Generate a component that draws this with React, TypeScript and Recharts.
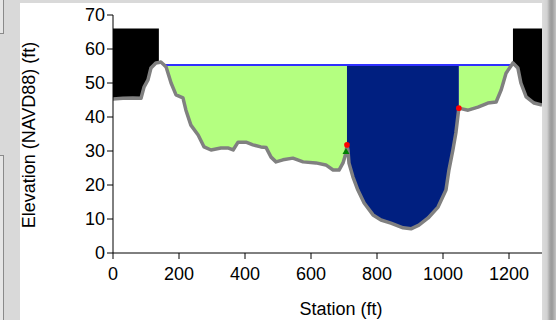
import React from 'react';
import { ComposedChart, Area, Line, XAxis, YAxis } from 'recharts';

// ground profile (station ft, elevation ft)
const STATIONS = [
  0, 30, 60, 85, 94, 106, 115, 130, 139, 145, 155, 161, 176, 191, 212, 221, 236, 258, 276, 297,
  327, 348, 364, 379, 403, 424, 448, 464, 479, 494, 515, 545, 576, 615, 645, 667, 685, 697, 706, 709,
  712, 715, 727, 742, 761, 788, 812, 842, 879, 903, 927, 955, 985, 1009, 1018, 1030, 1039, 1048, 1076, 1106,
  1136, 1161, 1176, 1191, 1208, 1212, 1227, 1236, 1252, 1276, 1300,
];
const ELEVATIONS = [
  45.3, 45.5, 45.6, 45.5, 48.8, 50.9, 54.4, 55.9, 56.0, 56.2, 55.3, 54.7, 50.0, 46.5, 45.6, 42.0, 37.6, 34.7, 31.2, 30.3,
  30.9, 30.9, 30.3, 32.6, 32.6, 31.8, 31.2, 31.0, 28.2, 26.8, 27.4, 27.9, 26.8, 26.5, 25.9, 24.4, 24.4, 26.5, 29.4, 31.8,
  30.3, 26.5, 22.4, 18.5, 14.7, 11.2, 9.7, 8.8, 7.4, 7.1, 8.2, 10.3, 13.5, 18.5, 24.4, 30.3, 35.3, 42.6, 42.0, 42.9,
  44.1, 44.4, 47.9, 52.9, 55.3, 55.9, 54.4, 50.0, 45.9, 44.1, 43.5,
];

const WATER_SURFACE = 55.3;
const WATER_EDGES = [155, 1208];
const BANK_STATIONS = [709, 1048];
const BLOCK_TOP = 66;
const LEFT_BLOCK = [0, 139];
const RIGHT_BLOCK = [1212, 1300];
const LEVEE_MARK = { station: 706, elev: 30 };

const X_TICKS = [0, 200, 400, 600, 800, 1000, 1200];
const Y_TICKS = [0, 10, 20, 30, 40, 50, 60, 70];
const X_MINOR = Array.from({ length: 33 }, (_, i) => i * 40);
const Y_MINOR = Array.from({ length: 43 }, (_, i) => (i * 10) / 6);

const FONT = 'Arial, "Liberation Sans", sans-serif';

const inside = (s: number, a: number, b: number) => s >= a && s <= b;

const rows = STATIONS.map((station, i) => {
  const elev = ELEVATIONS[i];
  const overbank =
    inside(station, WATER_EDGES[0], BANK_STATIONS[0]) || inside(station, BANK_STATIONS[1], WATER_EDGES[1]);
  return {
    station,
    elev,
    leftBlock: inside(station, LEFT_BLOCK[0], LEFT_BLOCK[1]) ? [elev, BLOCK_TOP] : null,
    rightBlock: inside(station, RIGHT_BLOCK[0], RIGHT_BLOCK[1]) ? [elev, BLOCK_TOP] : null,
    overbank: overbank ? [elev, WATER_SURFACE] : null,
    channel: inside(station, BANK_STATIONS[0], BANK_STATIONS[1]) ? [elev, WATER_SURFACE] : null,
    ws: inside(station, WATER_EDGES[0], WATER_EDGES[1]) ? WATER_SURFACE : null,
    bank: BANK_STATIONS.includes(station) ? elev : null,
    levee: station === LEVEE_MARK.station ? LEVEE_MARK.elev : null,
  };
});

function TriangleDot(props: any) {
  const { cx, cy, index } = props;
  if (cx == null || cy == null) return <g key={index} />;
  return <polygon key={index} points={`${cx},${cy - 3} ${cx + 3.5},${cy + 3} ${cx - 3.5},${cy + 3}`} fill="#008000" />;
}

const tickStyle = { fontSize: 18, fill: '#000', fontFamily: FONT };

export default function App() {
  return (
    <div style={{ position: 'absolute', left: 0, top: 0, width: 556, height: 320, background: '#d9d9d9', overflow: 'hidden' }}>
      {/* left panel remnants */}
      <div style={{ position: 'absolute', left: 0, top: 0, width: 3, height: 33, background: '#e6e6e6', borderRight: '1px solid #8a8a8a', borderBottom: '1px solid #8a8a8a' }} />
      <div style={{ position: 'absolute', left: 0, top: 155, width: 3, height: 170, background: '#e6e6e6', borderRight: '1px solid #8a8a8a', borderTop: '1px solid #8a8a8a' }} />
      {/* right edge */}
      <div style={{ position: 'absolute', left: 542, top: 0, width: 14, height: 320, background: 'linear-gradient(to right, #dcdcdc 0px, #d2d2d2 5px, #a4a4a4 8px, #9a9a9a 10px, #c4c4c4 14px)' }} />
      <div style={{ position: 'absolute', left: 20, top: 3, width: 522, height: 317, background: '#fff' }}>
        <ComposedChart width={522} height={317} data={rows} margin={{ top: 12, right: 0, bottom: 27, left: 33 }}>
          <XAxis
            xAxisId="minor" type="number" dataKey="station" domain={[0, 1300]} ticks={X_MINOR} interval={0}
            height={0} tickSize={3} tickFormatter={() => ''} axisLine={{ stroke: '#000' }} tickLine={{ stroke: '#000' }}
            allowDataOverflow
          />
          <XAxis
            xAxisId="main" type="number" dataKey="station" domain={[0, 1300]} ticks={X_TICKS} interval={0}
            height={40} tickSize={6} tickMargin={8} tick={tickStyle} axisLine={{ stroke: '#000' }} tickLine={{ stroke: '#000' }}
            allowDataOverflow
          />
          <YAxis
            yAxisId="minor" type="number" domain={[0, 70]} ticks={Y_MINOR} interval={0}
            width={0} tickSize={3} tickFormatter={() => ''} axisLine={{ stroke: '#000' }} tickLine={{ stroke: '#000' }}
            allowDataOverflow
          />
          <YAxis
            yAxisId="main" type="number" domain={[0, 70]} ticks={Y_TICKS} interval={0}
            width={60} tickSize={6} tickMargin={2} tick={tickStyle} axisLine={{ stroke: '#000' }} tickLine={{ stroke: '#000' }}
            allowDataOverflow
          />
          <Area xAxisId="main" yAxisId="main" type="linear" dataKey="leftBlock" stroke="none" fill="#000" fillOpacity={1} isAnimationActive={false} activeDot={false} />
          <Area xAxisId="main" yAxisId="main" type="linear" dataKey="rightBlock" stroke="none" fill="#000" fillOpacity={1} isAnimationActive={false} activeDot={false} />
          <Area xAxisId="main" yAxisId="main" type="linear" dataKey="overbank" stroke="none" fill="#b4ff80" fillOpacity={1} isAnimationActive={false} activeDot={false} />
          <Area xAxisId="main" yAxisId="main" type="linear" dataKey="channel" stroke="none" fill="#001f80" fillOpacity={1} isAnimationActive={false} activeDot={false} />
          <Line xAxisId="main" yAxisId="main" type="linear" dataKey="ws" stroke="#3030ff" strokeWidth={2} dot={false} activeDot={false} isAnimationActive={false} />
          <Line xAxisId="main" yAxisId="main" type="linear" dataKey="elev" stroke="#808080" strokeWidth={3.5} strokeLinejoin="round" dot={false} activeDot={false} isAnimationActive={false} />
          <Line xAxisId="main" yAxisId="main" type="linear" dataKey="levee" stroke="none" dot={<TriangleDot />} activeDot={false} isAnimationActive={false} />
          <Line xAxisId="main" yAxisId="main" type="linear" dataKey="bank" stroke="none" dot={{ r: 2.8, fill: '#ff0000', stroke: 'none' }} activeDot={false} isAnimationActive={false} />
        </ComposedChart>
      </div>
      <div style={{ position: 'absolute', left: 29, top: 135, transform: 'translate(-50%, -50%) rotate(-90deg)', whiteSpace: 'nowrap', fontFamily: FONT, fontSize: 18, lineHeight: '18px', color: '#000' }}>
        Elevation (NAVD88) (ft)
      </div>
      <div style={{ position: 'absolute', left: 241, top: 300, width: 200, textAlign: 'center', whiteSpace: 'nowrap', fontFamily: FONT, fontSize: 18, lineHeight: '18px', color: '#000' }}>
        Station (ft)
      </div>
    </div>
  );
}
